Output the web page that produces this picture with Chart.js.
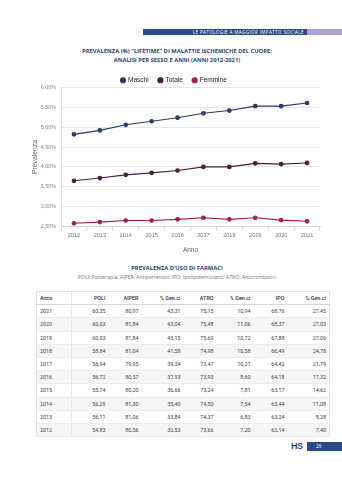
<!DOCTYPE html>
<html lang="it">
<head>
<meta charset="utf-8">
<title>Prevalenza malattie ischemiche del cuore</title>
<script src="https://cdn.jsdelivr.net/npm/chart.js@4/dist/chart.umd.min.js"></script>
<style>
  html, body { margin: 0; padding: 0; background: #fff; }
  body { width: 342px; height: 480px; position: relative; overflow: hidden; font-family: "Open Sans", "Liberation Sans", sans-serif; }
  .band { position: absolute; top: 29px; height: 6px; }
  .band.blue { left: 143px; width: 164px; background: #2c4a8a; color: #fff; font-size: 4.6px; line-height: 6px; text-align: right; letter-spacing: 0.35px; box-sizing: border-box; padding-right: 3px; }
  .band.lilac { left: 307px; width: 35px; background: #a9a3d6; }
  .title { position: absolute; left: 0; width: 354px; text-align: center; color: #2d3f7c; font-weight: 700; font-size: 5.8px; line-height: 8.5px; }
  #chartWrap { position: absolute; left: 0; top: 67px; width: 342px; height: 191px; }
  .sub { position: absolute; left: 0; width: 354px; text-align: center; color: #777; font-size: 5.1px; }
  table { position: absolute; left: 36px; top: 291px; width: 293px; table-layout: fixed; border-collapse: collapse; font-family: Roboto, "Liberation Sans", sans-serif; font-size: 5.4px; color: #444; border: 1px solid #e2e2e2; }
  td, th { height: 12.2px; padding: 0 3px; border-bottom: 1px solid #ececec; text-align: right; font-weight: 400; white-space: nowrap; }
  th { color: #333; font-weight: 500; border-bottom: 1px solid #d8d8d8; }
  td:first-child, th:first-child { text-align: left; border-right: 1px solid #e6e6e6; padding-left: 3px; }
  tbody tr:nth-child(even) td { background: #f6f6f6; }
  .logo { position: absolute; left: 291px; top: 441px; font-family: "Liberation Sans", sans-serif; font-weight: 700; font-size: 9px; color: #2c4a8a; letter-spacing: -0.5px; }
  .page { position: absolute; left: 307px; top: 442px; width: 35px; height: 9px; background: #2c4a8a; color: #fff; font-size: 4.8px; line-height: 9px; padding-left: 9px; box-sizing: border-box; }
</style>
</head>
<body>
<div class="band blue">LE PATOLOGIE A MAGGIOR IMPATTO SOCIALE</div>
<div class="band lilac"></div>

<div class="title" style="top:47px">PREVALENZA (%) “LIFETIME” DI MALATTIE ISCHEMICHE DEL CUORE:<br>ANALISI PER SESSO E ANNI (ANNI 2012-2021)</div>

<div id="chartWrap"><canvas id="chart"></canvas></div>

<div class="title" style="top:264px">PREVALENZA D’USO DI FARMACI</div>
<div class="sub" style="top:274px">POLI: Politerapia; AIPER: Antipertensivi; IPO: Ipolipidemizzanti; ATRO: Antitrombotici</div>

<table id="tab">
  <colgroup>
    <col style="width:35px"><col style="width:37px"><col style="width:33px"><col style="width:42px">
    <col style="width:33px"><col style="width:37px"><col style="width:34px"><col style="width:42px">
  </colgroup>
</table>

<div class="logo">HS</div>
<div class="page">29</div>

<script>
// Anni e prevalenza lifetime (%) per sesso
const anni = ['2012', '2013', '2014', '2015', '2016', '2017', '2018', '2019', '2020', '2021'];
const maschi = [4.82, 4.92, 5.06, 5.15, 5.24, 5.35, 5.42, 5.53, 5.53, 5.61];
const totale = [3.65, 3.72, 3.80, 3.85, 3.91, 4.00, 4.00, 4.09, 4.07, 4.10];
const femmine = [2.58, 2.61, 2.65, 2.65, 2.68, 2.72, 2.68, 2.72, 2.66, 2.63];

// Tabella prevalenza d'uso di farmaci
const intestazioni = ['Anno', 'POLI', 'AIPER', '% Gen.ci', 'ATRO', '% Gen.ci', 'IPO', '% Gen.ci'];
const anniTab = [2021, 2020, 2019, 2018, 2017, 2016, 2015, 2014, 2013, 2012];
const poli = [60.35, 60.03, 60.03, 58.84, 56.94, 56.72, 55.74, 56.29, 56.11, 54.83];
const aiper = [80.97, 81.84, 81.84, 81.04, 79.95, 80.57, 80.20, 81.30, 81.06, 80.56];
const aiperGen = [43.31, 43.04, 43.15, 41.58, 39.34, 37.93, 36.66, 35.40, 33.84, 32.53];
const atro = [75.15, 75.48, 75.69, 74.98, 73.47, 73.93, 73.24, 74.50, 74.37, 73.66];
const atroGen = [10.94, 11.06, 10.72, 10.58, 10.21, 8.60, 7.81, 7.54, 6.83, 7.20];
const ipo = [68.76, 68.37, 67.88, 66.49, 64.42, 64.18, 63.17, 63.44, 63.24, 62.14];
const ipoGen = [27.45, 27.03, 27.06, 24.78, 21.79, 17.32, 14.62, 11.08, 8.28, 7.40];

const fmt = v => v.toFixed(2).replace('.', ',');

// build the table body
const tab = document.getElementById('tab');
let html = '<thead><tr>' + intestazioni.map(h => '<th>' + h + '</th>').join('') + '</tr></thead><tbody>';
anniTab.forEach((a, i) => {
  const cols = [poli, aiper, aiperGen, atro, atroGen, ipo, ipoGen].map(c => '<td>' + fmt(c[i]) + '</td>').join('');
  html += '<tr><td>' + a + '</td>' + cols + '</tr>';
});
tab.insertAdjacentHTML('beforeend', html + '</tbody>');

const colori = { maschi: '#2b3a62', totale: '#4b1c3f', femmine: '#a3203f' };
const serie = (label, data, c) => ({
  label, data,
  borderColor: c, backgroundColor: c,
  pointBackgroundColor: c, pointBorderColor: c,
  borderWidth: 1.1, pointRadius: 1.8, pointHoverRadius: 2,
  tension: 0
});

// trims the legend box so the plot sits closer to it
const legendFit = {
  id: 'legendFit',
  afterInit(chart) {
    const lg = chart.legend;
    if (!lg) return;
    const orig = lg.fit;
    lg.fit = function () { orig.call(this); this.height -= 6; };
  }
};

new Chart(document.getElementById('chart'), {
  type: 'line',
  data: {
    labels: anni,
    datasets: [
      serie('Maschi', maschi, colori.maschi),
      serie('Totale', totale, colori.totale),
      serie('Femmine', femmine, colori.femmine)
    ]
  },
  plugins: [legendFit],
  options: {
    responsive: true,
    maintainAspectRatio: false,
    animation: false,
    layout: { padding: { left: 28, right: 22, top: 0, bottom: 0 } },
    plugins: {
      legend: {
        position: 'top',
        labels: {
          usePointStyle: true, pointStyle: 'circle',
          boxWidth: 3.6, boxHeight: 3.6, padding: 10,
          color: '#222',
          font: { family: 'Liberation Sans', size: 6.5 }
        }
      },
      tooltip: { enabled: false }
    },
    scales: {
      x: {
        offset: true,
        grid: { display: true, drawOnChartArea: false, drawTicks: true, tickLength: 4, color: '#d6d6d6', offset: true },
        border: { display: true, color: '#d6d6d6' },
        ticks: { color: '#777', padding: 2, font: { family: 'Liberation Sans', size: 5.6 } },
        title: { display: true, text: 'Anno', color: '#666', padding: { top: 5, bottom: 4 }, font: { family: 'Liberation Sans', size: 6.5 } }
      },
      y: {
        min: 2.5, max: 6,
        afterFit(scale) { scale.width = 33; },
        grid: { color: '#e6e6e6', drawTicks: false },
        border: { display: true, color: '#e0e0e0' },
        ticks: {
          stepSize: 0.5, color: '#888', padding: 5,
          font: { family: 'Liberation Sans', size: 5.4 },
          callback: v => v.toFixed(2).replace('.', ',') + '%'
        },
        title: { display: true, text: 'Prevalenza', color: '#666', padding: { top: 3, bottom: 2 }, font: { family: 'Liberation Sans', size: 6.8 } }
      }
    }
  }
});
</script>
</body>
</html>
